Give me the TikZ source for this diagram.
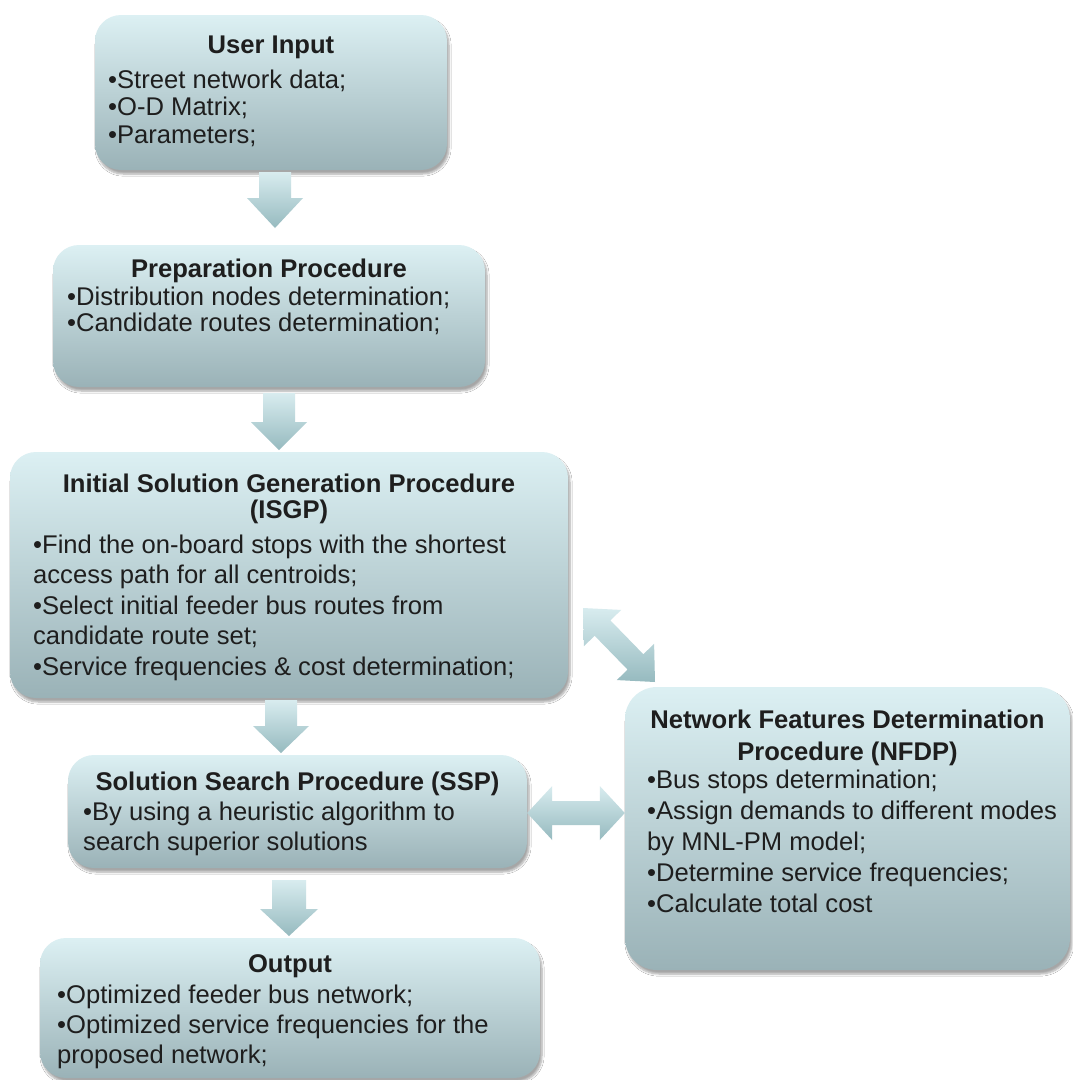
\documentclass[tikz,border=0pt]{standalone}
\usepackage{fontspec}
\setmainfont{Liberation Sans}
\usetikzlibrary{calc,shadows.blur}

\definecolor{boxtop}{RGB}{220,240,243}
\definecolor{boxmid}{RGB}{196,221,225}
\definecolor{boxbot}{RGB}{154,178,183}
\definecolor{arrtop}{RGB}{216,236,239}
\definecolor{arrbot}{RGB}{150,186,191}
\definecolor{txt}{RGB}{30,30,30}

\tikzset{
  box/.style={rounded corners=26pt, top color=boxtop, middle color=boxmid, bottom color=boxbot,
    draw=none, inner sep=0pt,
    blur shadow={shadow xshift=2pt, shadow yshift=-4pt, shadow blur steps=6, shadow opacity=35}},
  arr/.style={top color=arrtop, bottom color=arrbot, draw=none},
  ttl/.style={font=\bfseries\fontsize{25.6}{26}\selectfont, text=txt, inner sep=0pt, align=center},
  lst/.style={text=txt, inner sep=0pt, align=left, anchor=north west},
}

% single block arrow: #1 start, #2 tip, #3 stem half width, #4 head half width, #5 head length
\newcommand\blockarrow[5]{%
  \coordinate (hh) at ($(#2)!#5!(#1)$);
  \path[arr] ($(#1)!#3!90:(#2)$) -- ($(hh)!#3!-90:(#1)$) -- ($(hh)!#4!-90:(#1)$) -- (#2)
     -- ($(hh)!#4!90:(#1)$) -- ($(hh)!#3!90:(#1)$) -- ($(#1)!#3!-90:(#2)$) -- cycle;
}
% double block arrow: #1 tip, #2 tip, #3 stem half width, #4 head half width, #5 head length
\newcommand\dblarrow[5]{%
  \coordinate (ha) at ($(#1)!#5!(#2)$);
  \coordinate (hb) at ($(#2)!#5!(#1)$);
  \path[arr] (#1) -- ($(ha)!#4!90:(#2)$) -- ($(ha)!#3!90:(#2)$) -- ($(hb)!#3!-90:(#1)$)
     -- ($(hb)!#4!-90:(#1)$) -- (#2) -- ($(hb)!#4!90:(#1)$) -- ($(hb)!#3!90:(#1)$)
     -- ($(ha)!#3!-90:(#2)$) -- ($(ha)!#4!-90:(#2)$) -- cycle;
}

\begin{document}
\begin{tikzpicture}[x=1pt, y=-1pt]
\useasboundingbox (0,0) rectangle (1073,1080);
\fill[white] (0,0) rectangle (1073,1080);

% boxes
\node[box, minimum width=352pt, minimum height=155pt] (bUser) at (271,92.5) {};
\node[box, minimum width=432pt, minimum height=142pt] (bPrep) at (269,316) {};
\node[box, minimum width=558pt, minimum height=246pt] (bISGP) at (289,575) {};
\node[box, minimum width=459pt, minimum height=113pt] (bSSP) at (297.5,811.5) {};
\node[box, minimum width=500pt, minimum height=140pt] (bOut) at (290,1008) {};
\node[box, minimum width=445pt, minimum height=283pt, rounded corners=32pt] (bNFDP) at (847.5,828.5) {};

% texts
\node[ttl, anchor=base] (tUser) at (271,53) {User Input};
\node[lst, font=\fontsize{25.6}{27.5}\selectfont] (lUser) at (108,69)
  {\rule{0pt}{19pt}•Street network data;\\•O-D Matrix;\\•Parameters;};

\node[ttl, anchor=base] (tPrep) at (269,277) {Preparation Procedure};
\node[lst, font=\fontsize{25.6}{26}\selectfont] (lPrep) at (67,286)
  {\rule{0pt}{19pt}•Distribution nodes determination;\\•Candidate routes determination;};

\node[ttl, anchor=north, font=\bfseries\fontsize{25.6}{26}\selectfont] (tISGP) at (289,473)
  {\rule{0pt}{19pt}Initial Solution Generation Procedure\\(ISGP)};
\node[lst, font=\fontsize{25.6}{30.5}\selectfont] (lISGP) at (33,534)
  {\rule{0pt}{19pt}•Find the on-board stops with the shortest\\access path for all centroids;\\•Select initial feeder bus routes from\\candidate route set;\\•Service frequencies \& cost determination;};

\node[ttl, anchor=base] (tSSP) at (297.5,790) {Solution Search Procedure (SSP)};
\node[lst, font=\fontsize{25.6}{30}\selectfont] (lSSP) at (83,801)
  {\rule{0pt}{19pt}•By using a heuristic algorithm to\\search superior solutions};

\node[ttl, anchor=base] (tOut) at (290,972) {Output};
\node[lst, font=\fontsize{25.6}{30}\selectfont] (lOut) at (57,984)
  {\rule{0pt}{19pt}•Optimized feeder bus network;\\•Optimized service frequencies for the\\proposed network;};

\node[ttl, anchor=north, font=\bfseries\fontsize{25.6}{32}\selectfont] (tNFDP) at (847.5,709)
  {\rule{0pt}{19pt}Network Features Determination\\Procedure (NFDP)};
\node[lst, font=\fontsize{25.6}{31}\selectfont] (lNFDP) at (647,769)
  {\rule{0pt}{19pt}•Bus stops determination;\\•Assign demands to different modes\\by MNL-PM model;\\•Determine service frequencies;\\•Calculate total cost};

% arrows
\coordinate (a1s) at (275,172);   \coordinate (a1e) at (275,228);
\coordinate (a2s) at (279,393);   \coordinate (a2e) at (279,450);
\coordinate (a3s) at (281,700);   \coordinate (a3e) at (281,753);
\coordinate (a4s) at (289,880);   \coordinate (a4e) at (289,936);
\blockarrow{a1s}{a1e}{16pt}{28pt}{30pt}
\blockarrow{a2s}{a2e}{16pt}{28pt}{28pt}
\blockarrow{a3s}{a3e}{16pt}{28pt}{27pt}
\blockarrow{a4s}{a4e}{17pt}{29pt}{27pt}

\coordinate (d1a) at (bSSP.east |- 0,813);
\coordinate (d1b) at (bNFDP.west |- 0,813);
\dblarrow{d1a}{d1b}{12pt}{27pt}{25pt}

\coordinate (d2a) at (583,608);
\coordinate (d2b) at (655,682);
\dblarrow{d2a}{d2b}{11pt}{26pt}{28pt}
\end{tikzpicture}
\end{document}
